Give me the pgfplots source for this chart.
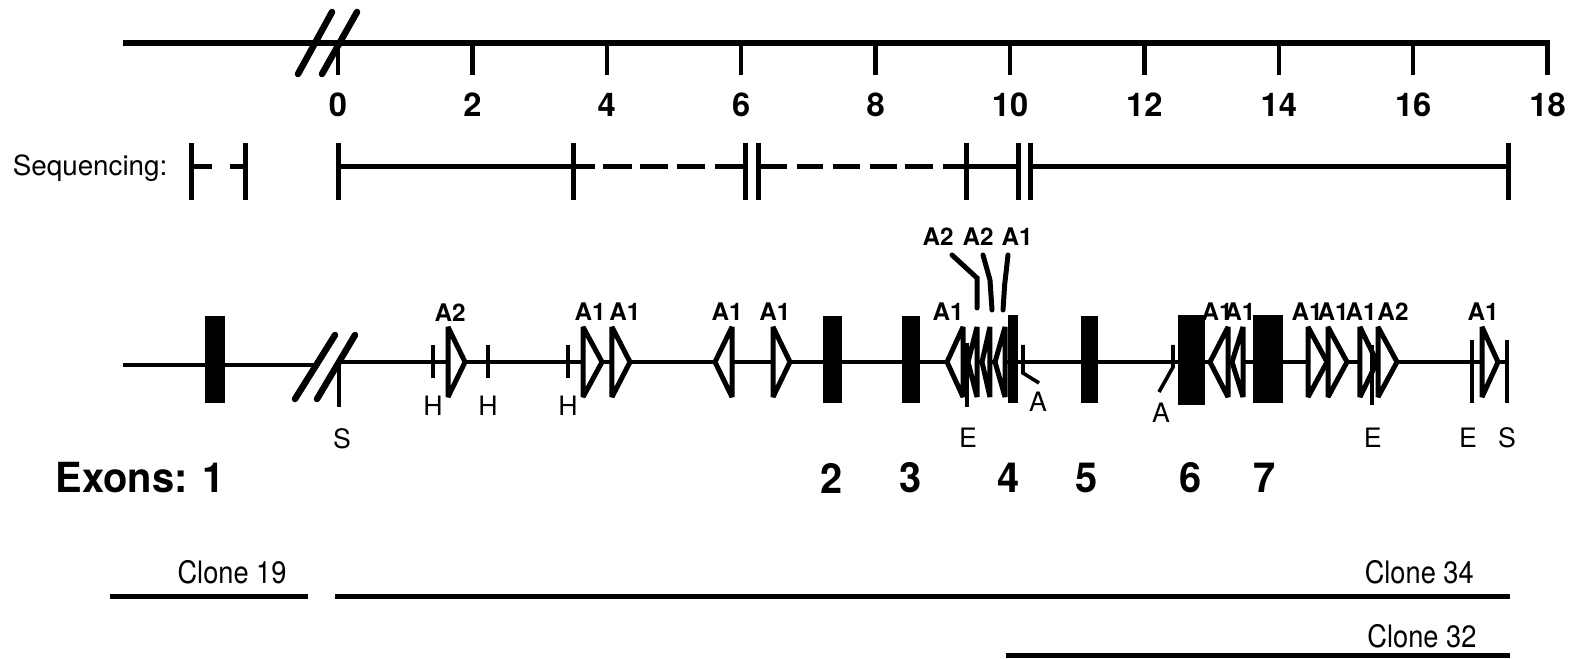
\documentclass[border=0pt]{standalone}
\usepackage{fontspec}
\setmainfont{TeX Gyre Heros}
\newfontfamily\condfont[FakeStretch=0.88]{TeX Gyre Heros}
\newfontfamily\bigfont[FakeStretch=0.96]{TeX Gyre Heros}
\usepackage{pgfplots}
\pgfplotsset{compat=1.18}
\tikzset{
  tri/.style={fill=white,draw=black,line width=0.5mm,line join=miter,miter limit=3},
  num/.style={font=\fontsize{9.3}{10}\selectfont\bfseries,inner sep=0pt},
  alab/.style={font=\fontsize{6.9}{7}\selectfont\bfseries,inner sep=0pt},
  rlab/.style={font=\fontsize{7.6}{8}\selectfont,inner sep=0pt},
  big/.style={font=\bigfont\fontsize{11.8}{12}\selectfont\bfseries,inner sep=0pt},
  clab/.style={font=\condfont\fontsize{8.8}{9}\selectfont,inner sep=0pt}}
\newcommand{\exon}[4]{\addplot[fill=black,draw=none] coordinates {(#1,-#3) (#2,-#3) (#2,-#4) (#1,-#4)} -- cycle;}
\newcommand{\rtri}[2]{\addplot[tri] coordinates {(#1,-327) (#2,-362) (#1,-397)} -- cycle;}
\newcommand{\ltri}[2]{\addplot[tri] coordinates {(#2,-327) (#1,-362) (#2,-397)} -- cycle;}
\begin{document}
\begin{tikzpicture}
\begin{axis}[width=15.82cm,height=6.58cm,scale only axis,hide axis,clip=false,
  xmin=-5.030,xmax=18.512,ymin=-658,ymax=0,unbounded coords=jump]
\path (rel axis cs:0,0) rectangle (rel axis cs:1,1);
% ---------- kb ruler ----------
\addplot[black,line width=0.55mm,line join=miter] coordinates {(-3.20,-43) (18,-43) (18,-75)};
\addplot[black,line width=0.45mm] coordinates {(0,-43) (0,-75) (nan,nan) (2,-43) (2,-75) (nan,nan)
  (4,-43) (4,-75) (nan,nan) (6,-43) (6,-75) (nan,nan) (8,-43) (8,-75) (nan,nan) (10,-43) (10,-75) (nan,nan)
  (12,-43) (12,-75) (nan,nan) (14,-43) (14,-75) (nan,nan) (16,-43) (16,-75)};
\addplot[black,line width=0.65mm,line cap=round] coordinates {(-0.595,-74) (-0.089,-12) (nan,nan) (-0.238,-74) (0.283,-12)};
\node[num] at (axis cs:0,-105) {0};
\node[num] at (axis cs:2,-105) {2};
\node[num] at (axis cs:4,-105) {4};
\node[num] at (axis cs:6,-105) {6};
\node[num] at (axis cs:8,-105) {8};
\node[num] at (axis cs:10,-105) {10};
\node[num] at (axis cs:12,-105) {12};
\node[num] at (axis cs:14,-105) {14};
\node[num] at (axis cs:16,-105) {16};
\node[num] at (axis cs:18,-105) {18};
% ---------- sequencing ----------
\node[font=\fontsize{7.9}{8}\selectfont,inner sep=0pt,anchor=base east] at (axis cs:-2.53,-176) {Sequencing:};
\addplot[black,line width=0.5mm] coordinates {(-2.173,-167) (-1.875,-167) (nan,nan) (-1.607,-167) (-1.384,-167) (nan,nan)
  (0,-167) (3.497,-167) (nan,nan) (3.527,-167) (3.824,-167) (nan,nan) (3.943,-167) (4.375,-167) (nan,nan)
  (4.494,-167) (4.911,-167) (nan,nan) (5.045,-167) (5.461,-167) (nan,nan) (5.610,-167) (6.042,-167) (nan,nan)
  (6.25,-167) (6.682,-167) (nan,nan) (6.830,-167) (7.217,-167) (nan,nan) (7.366,-167) (7.768,-167) (nan,nan)
  (7.917,-167) (8.318,-167) (nan,nan) (8.438,-167) (8.854,-167) (nan,nan) (9.003,-167) (10.119,-167) (nan,nan)
  (10.298,-167) (17.411,-167)};
\addplot[black,line width=0.5mm] coordinates {(-2.173,-143) (-2.173,-200) (nan,nan) (-1.384,-143) (-1.384,-200) (nan,nan)
  (0,-143) (0,-200) (nan,nan) (3.497,-143) (3.497,-200) (nan,nan) (6.057,-143) (6.057,-200) (nan,nan)
  (6.25,-143) (6.25,-200) (nan,nan) (9.345,-143) (9.345,-200) (nan,nan) (10.119,-143) (10.119,-200) (nan,nan)
  (10.298,-143) (10.298,-200) (nan,nan) (17.411,-143) (17.411,-200)};
% ---------- gene map ----------
\addplot[black,line width=0.48mm] coordinates {(-3.20,-365) (-0.33,-365) (nan,nan) (0.0,-362) (17.40,-362)};
\addplot[black,line width=0.65mm,line cap=round] coordinates {(-0.640,-399) (-0.045,-335) (nan,nan) (-0.3125,-399) (0.253,-335)};
\exon{-1.979}{-1.682}{316}{403}
\exon{7.217}{7.500}{316}{403}
\exon{8.393}{8.661}{316}{403}
\exon{9.970}{10.119}{315}{403}
\exon{11.057}{11.310}{316}{403}
\exon{12.500}{12.902}{315}{405}
\exon{13.616}{14.063}{315}{403}
% repeats (open arrowheads)
\rtri{1.637}{1.890}
\rtri{3.646}{3.929}
\rtri{4.077}{4.345}
\ltri{5.610}{5.863}
\rtri{6.473}{6.726}
\ltri{9.063}{9.301}
\ltri{9.375}{9.509}
\ltri{9.583}{9.702}
\ltri{9.777}{9.926}
\ltri{12.976}{13.244}
\ltri{13.304}{13.467}
\rtri{14.435}{14.717}
\rtri{14.732}{15.015}
\rtri{15.208}{15.461}
\rtri{15.476}{15.759}
\rtri{17.024}{17.262}
% restriction sites
\addplot[black,line width=0.36mm] coordinates {(1.414,-345) (1.414,-378) (nan,nan) (2.232,-345) (2.232,-378) (nan,nan) (3.423,-345) (3.423,-378)};
\addplot[black,line width=0.45mm] coordinates {(0.015,-362) (0.015,-407) (nan,nan) (9.360,-343) (9.360,-407) (nan,nan)
  (15.387,-345) (15.387,-405) (nan,nan) (16.875,-340) (16.875,-403) (nan,nan) (17.396,-340) (17.396,-403)};
\addplot[black,line width=0.36mm] coordinates {(10.193,-345) (10.193,-373) (10.432,-383) (nan,nan) (12.426,-345) (12.426,-367) (12.217,-392)};
% leader lines to the cluster
\addplot[black,line width=0.5mm,line cap=round] coordinates {(9.137,-255) (9.509,-278) (9.509,-308) (nan,nan)
  (9.598,-255) (9.702,-280) (9.732,-310) (nan,nan) (9.970,-255) (9.920,-285) (9.896,-310)};
% repeat labels
\node[alab] at (axis cs:1.667,-313) {A2};
\node[alab] at (axis cs:3.75,-312) {A1};
\node[alab] at (axis cs:4.27,-312) {A1};
\node[alab] at (axis cs:5.79,-312) {A1};
\node[alab] at (axis cs:6.50,-312) {A1};
\node[alab] at (axis cs:9.08,-312) {A1};
\node[alab] at (axis cs:8.929,-237) {A2};
\node[alab] at (axis cs:9.524,-237) {A2};
\node[alab] at (axis cs:10.104,-237) {A1};
\node[alab] at (axis cs:13.08,-312) {A1};
\node[alab] at (axis cs:13.42,-312) {A1};
\node[alab] at (axis cs:14.42,-312) {A1};
\node[alab] at (axis cs:14.807,-312) {A1};
\node[alab] at (axis cs:15.223,-312) {A1};
\node[alab] at (axis cs:15.699,-312) {A2};
\node[alab] at (axis cs:17.04,-312) {A1};
% site labels
\node[rlab] at (axis cs:1.414,-406) {H};
\node[rlab] at (axis cs:2.232,-406) {H};
\node[rlab] at (axis cs:3.423,-406) {H};
\node[rlab] at (axis cs:0.06,-439) {S};
\node[rlab] at (axis cs:9.375,-438) {E};
\node[rlab] at (axis cs:10.417,-402) {A};
\node[rlab] at (axis cs:12.247,-413) {A};
\node[rlab] at (axis cs:15.40,-438) {E};
\node[rlab] at (axis cs:16.815,-438) {E};
\node[rlab] at (axis cs:17.396,-438) {S};
% exon numbers
\node[big,anchor=east] at (axis cs:-1.68,-478) {Exons: 1};
\node[big] at (axis cs:7.351,-478) {2};
\node[big] at (axis cs:8.527,-478) {3};
\node[big] at (axis cs:9.985,-478) {4};
\node[big] at (axis cs:11.146,-478) {5};
\node[big] at (axis cs:12.693,-478) {6};
\node[big] at (axis cs:13.795,-478) {7};
% clones
\addplot[black,line width=0.5mm] coordinates {(-3.393,-596) (-0.446,-596) (nan,nan) (-0.045,-596) (17.44,-596) (nan,nan) (9.94,-655) (17.44,-655)};
\node[clab] at (axis cs:-1.577,-572) {Clone 19};
\node[clab] at (axis cs:16.09,-572) {Clone 34};
\node[clab] at (axis cs:16.13,-636) {Clone 32};
\end{axis}
\end{tikzpicture}
\end{document}
